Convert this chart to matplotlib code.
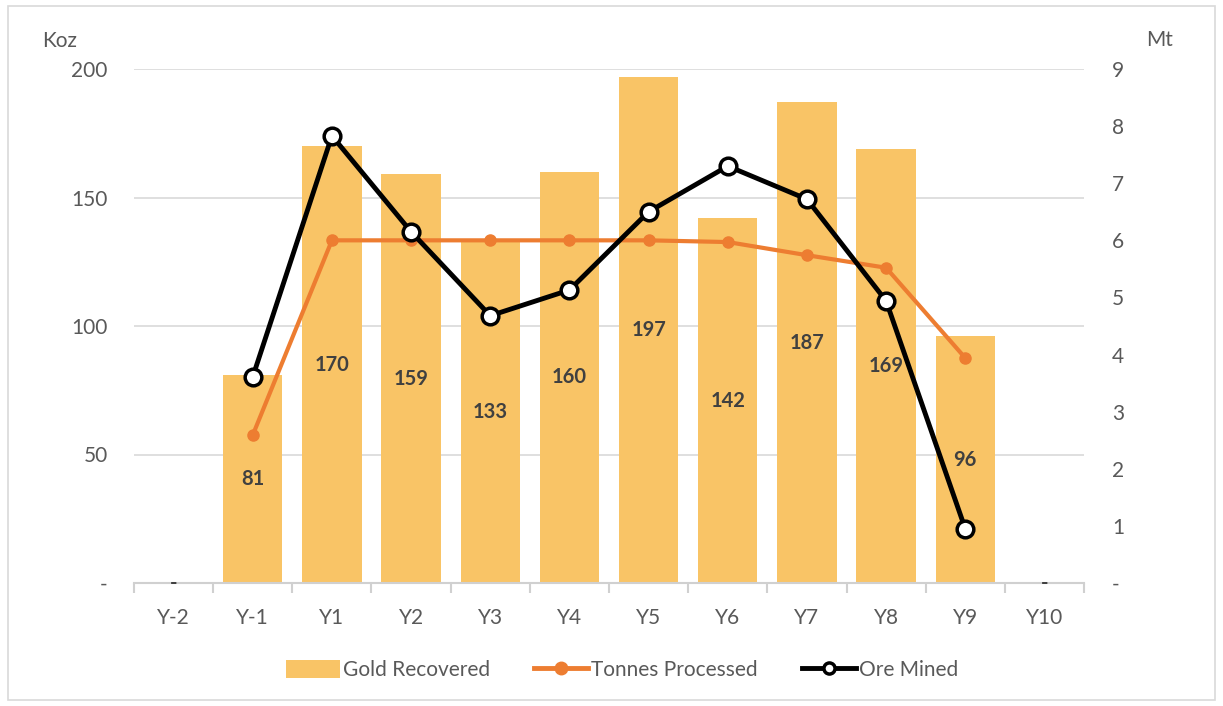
import matplotlib
matplotlib.use("Agg")
import matplotlib.pyplot as plt
import numpy as np
from matplotlib.patches import Rectangle
from matplotlib.lines import Line2D
from matplotlib.patches import Patch

categories = ["Y-2", "Y-1", "Y1", "Y2", "Y3", "Y4", "Y5", "Y6", "Y7", "Y8", "Y9", "Y10"]
gold_recovered = [0, 81, 170, 159, 133, 160, 197, 142, 187, 169, 96, 0]
tonnes_processed = [None, 2.59, 6.0, 6.0, 6.0, 6.0, 6.0, 5.97, 5.74, 5.52, 3.94, None]
ore_mined = [None, 3.61, 7.83, 6.15, 4.68, 5.13, 6.5, 7.3, 6.72, 4.94, 0.95, None]
left_ticks = [0, 50, 100, 150, 200]
left_labels = ["-", "50", "100", "150", "200"]
right_ticks = list(range(0, 10))
right_labels = ["-"] + [str(i) for i in range(1, 10)]

plt.rcParams['font.family'] = ['Lato', 'DejaVu Sans']
txt = "#595959"
bar_c = "#F9C466"
org = "#ED7D31"
fs = 15

fig = plt.figure(figsize=(12.23, 7.06), dpi=100)
fig.patches.append(Rectangle((8/1223, 6/706), 1207/1223, 694/706, transform=fig.transFigure,
                             fill=False, edgecolor="#d9d9d9", lw=1.2))
ax = fig.add_axes([134/1223, 1-583/706, 950/1223, 514/706])
x = np.arange(len(categories))
ax.bar(x, gold_recovered, width=0.75, color=bar_c, zorder=2)
ax.set_xlim(-0.5, len(categories)-0.5)
ax.set_ylim(0, 200)
ax.set_yticks(left_ticks)
ax.set_yticklabels(left_labels)
ax.yaxis.grid(True, color="#d9d9d9", lw=1.2, zorder=0)
ax.set_axisbelow(True)
for s in ["top", "right", "left"]:
    ax.spines[s].set_visible(False)
ax.spines["bottom"].set_color("#d0d0d0")
ax.spines["bottom"].set_linewidth(1.5)
ax.spines["bottom"].set_zorder(3)
ax.set_xticks(x)
ax.set_xticklabels(categories)
ax.set_xticks(np.arange(-0.5, len(categories)), minor=True)
ax.tick_params(axis="x", which="major", length=0, pad=18, labelsize=fs, labelcolor=txt)
ax.tick_params(axis="x", which="minor", length=7, color="#d0d0d0", width=1.5)
ax.tick_params(axis="y", length=0, pad=19, labelsize=fs, labelcolor=txt)

for xi, v in zip(x, gold_recovered):
    if v > 0:
        ax.text(xi, v/2, str(v), ha="center", va="center", fontsize=14.5, fontweight="bold", color="#404040", zorder=5)
    else:
        ax.text(xi, 0, "-", ha="center", va="center", fontsize=14.5, fontweight="bold", color="#404040", zorder=5)

ax2 = ax.twinx()
ax2.set_ylim(0, 9)
ax2.set_yticks(right_ticks)
ax2.set_yticklabels(right_labels)
for s in ax2.spines.values():
    s.set_visible(False)
ax2.tick_params(axis="y", length=0, pad=20, labelsize=fs, labelcolor=txt)

tp = np.array([np.nan if v is None else v for v in tonnes_processed], dtype=float)
om = np.array([np.nan if v is None else v for v in ore_mined], dtype=float)
ax2.plot(x, tp, color=org, lw=3, marker="o", ms=8, mfc=org, mec=org, zorder=4)
ax2.plot(x, om, color="black", lw=3.5, marker="o", ms=12, mfc="white", mec="black", mew=2.5, zorder=5)

fig.text(60/1223, 1-41/706, "Koz", fontsize=fs, color=txt, ha="center", va="center")
fig.text(1160/1223, 1-40/706, "Mt", fontsize=fs, color=txt, ha="center", va="center")

handles = [Patch(facecolor=bar_c, edgecolor="none"),
           Line2D([0], [0], color=org, lw=3.5, marker="o", ms=9, mfc=org, mec=org),
           Line2D([0], [0], color="black", lw=3.5, marker="o", ms=8, mfc="white", mec="black", mew=2.5)]
fig.legend(handles, ["Gold Recovered", "Tonnes Processed", "Ore Mined"], loc="center",
           bbox_to_anchor=(622/1223, 1-670/706), ncol=3, frameon=False, fontsize=fs,
           labelcolor=txt, handlelength=2.6, handletextpad=0.15, columnspacing=2.1,
           handleheight=1.0)

fig.savefig("out.png", dpi=100)
